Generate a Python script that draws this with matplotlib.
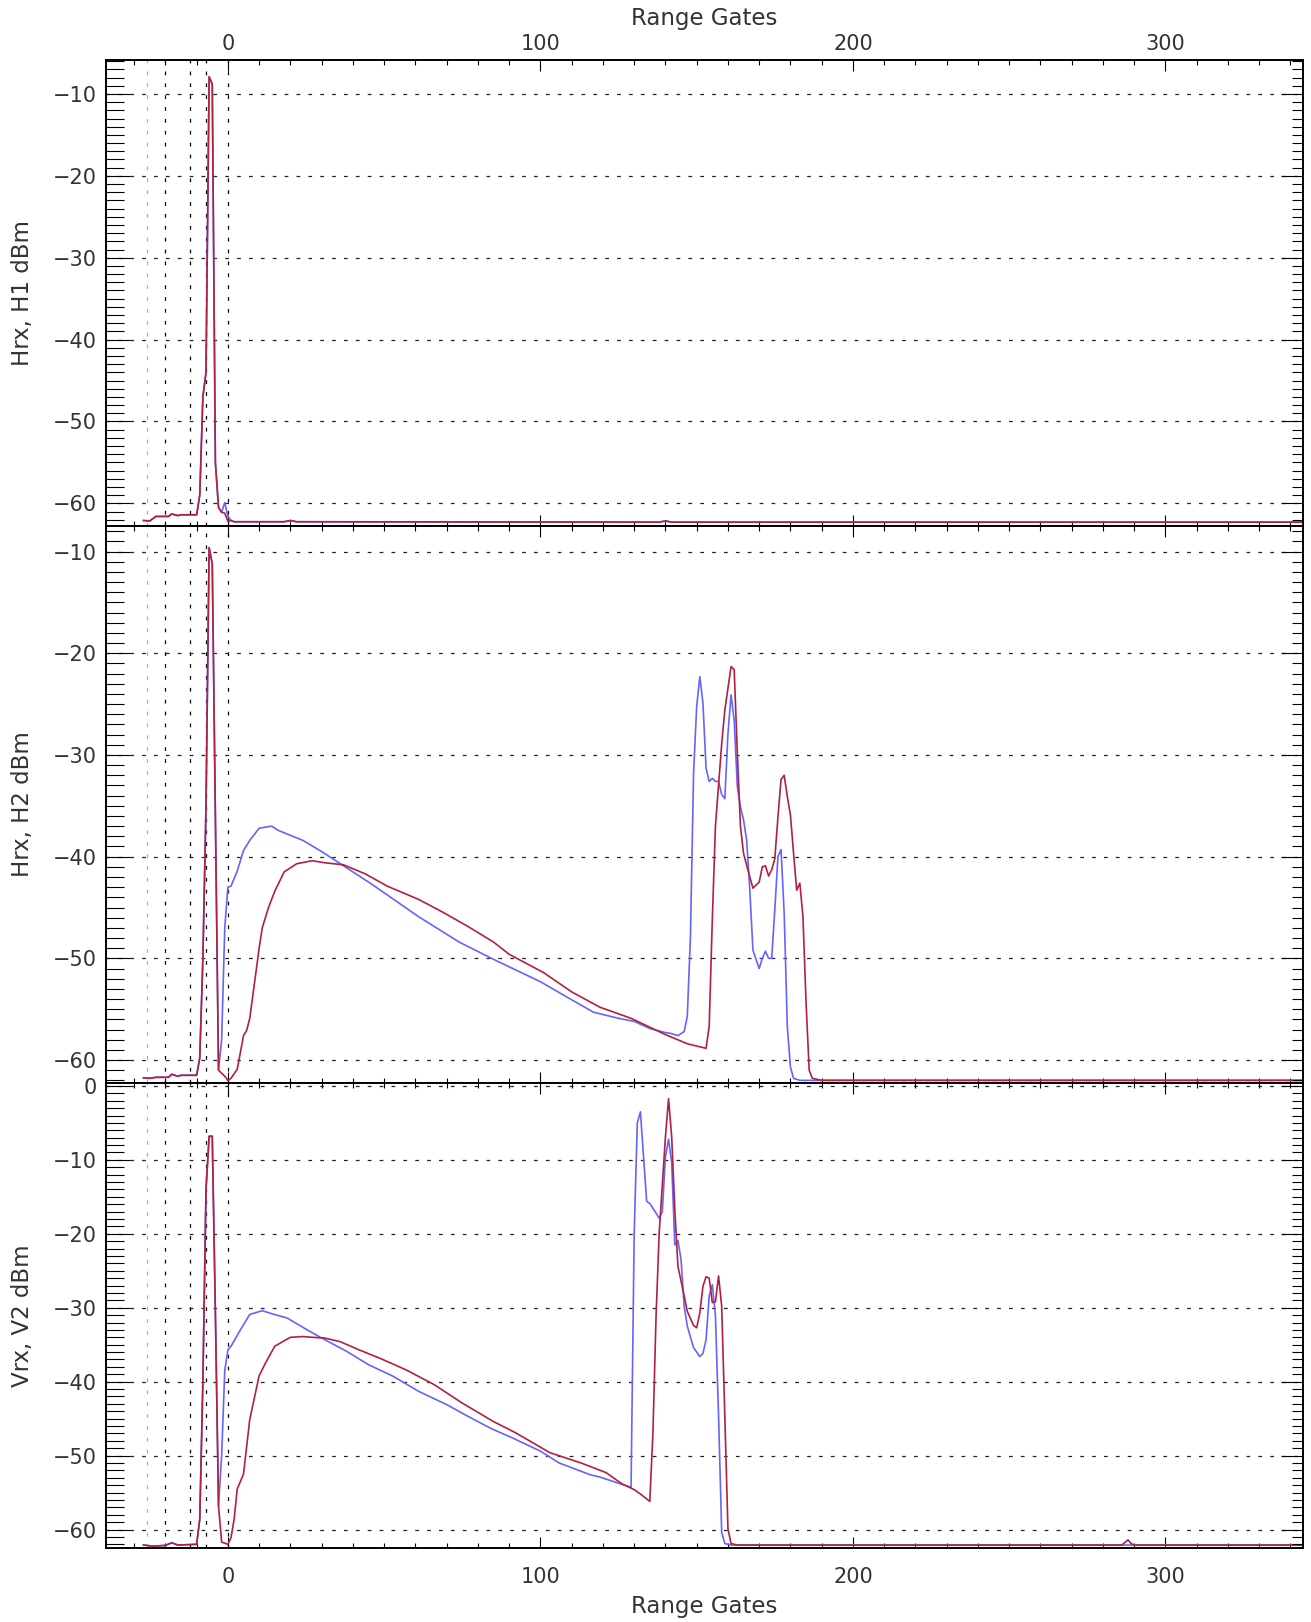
import matplotlib
matplotlib.use("Agg")
import matplotlib.pyplot as plt
from matplotlib.ticker import MultipleLocator

plt.rcParams['font.family'] = ['DejaVu Sans']

# ---- data (range gate, dBm) ----
h1_gates = [-27, -25, -23, -19, -18, -16, -15, -10, -9, -8, -7, -6, -5, -4, -3, -2, -1, 0, 1, 2,
            18, 20, 22, 138, 140, 142, 344]
h1_red = [-62.1, -62.15, -61.6, -61.6, -61.3, -61.5, -61.4, -61.4, -59.0, -47.0, -44.0, -7.9, -8.8,
          -55.0, -60.5, -61.1, -61.2, -62.2, -62.1, -62.25, -62.25, -62.1, -62.25, -62.3, -62.15,
          -62.3, -62.3]
h1_blue = [-62.1, -62.15, -61.6, -61.6, -61.3, -61.5, -61.4, -61.4, -59.0, -47.0, -44.0, -7.9, -8.8,
           -55.0, -60.5, -61.1, -59.9, -61.6, -62.1, -62.25, -62.25, -62.1, -62.25, -62.3, -62.15,
           -62.3, -62.3]

h2_red_gates = [-27, -25, -23, -19, -18, -16, -15, -10, -9, -8, -7, -6, -5, -4, -3, -1, 0, 1, 3, 5,
                6, 7, 10, 11, 13, 15, 18, 22, 27, 31, 37, 44, 51, 61, 69, 77, 85, 90, 101, 110,
                119, 129, 140, 147, 153, 154, 155, 156, 158, 159, 161, 162, 163, 164, 165, 167, 168,
                170, 171, 172, 173, 174, 175, 176, 177, 178, 179, 180, 181, 182, 183, 184, 185, 186,
                187, 190, 344]
h2_red = [-61.75, -61.8, -61.7, -61.7, -61.4, -61.6, -61.5, -61.5, -59.8, -50.0,
          -35.0, -9.6, -11.2, -36.0, -61.0, -61.6, -62.0, -61.8, -60.9, -57.6,
          -57.1, -55.9, -49.0, -47.0, -45.0, -43.4, -41.5, -40.7, -40.4, -40.6,
          -40.8, -41.7, -42.9, -44.2, -45.5, -46.9, -48.4, -49.6, -51.4, -53.3,
          -54.8, -55.9, -57.5, -58.4, -58.85, -56.7, -46.2, -37.0, -28.9, -25.6,
          -21.3, -21.6, -29.8, -37.0, -39.7, -42.0, -43.1, -42.5, -41.0, -40.9,
          -41.9, -41.3, -40.2, -36.1, -32.4, -32.0, -34.1, -35.9, -39.7, -43.3,
          -42.6, -45.9, -54.4, -61.0, -61.8, -62.0, -62.0]
h2_blue_gates = [-27, -25, -23, -19, -18, -16, -15, -10, -9, -8, -7, -6, -5, -4, -3, -2, -1, 0, 1, 3,
                 5, 7, 10, 14, 16, 24, 30, 36, 46, 61, 74, 85, 100, 109, 117, 125, 130, 135, 140, 142,
                 144, 146, 147, 148, 149, 150, 151, 152, 153, 154, 155, 156, 157, 158, 159, 160, 161,
                 162, 163, 164, 165, 166, 167, 168, 170, 171, 172, 173, 174, 175, 176, 177, 178, 179,
                 180, 181, 183, 344]
h2_blue = [-61.75, -61.8, -61.7, -61.7, -61.4, -61.6, -61.5, -61.5, -59.8, -50.0,
           -35.0, -9.6, -11.2, -36.0, -61.0, -58.0, -47.0, -43.0, -42.9, -41.4,
           -39.4, -38.4, -37.2, -37.0, -37.4, -38.4, -39.5, -40.7, -42.7, -45.9,
           -48.4, -50.1, -52.3, -53.9, -55.3, -55.9, -56.2, -56.9, -57.3, -57.4,
           -57.6, -57.2, -55.7, -47.9, -31.8, -25.2, -22.3, -24.9, -31.3, -32.6,
           -32.3, -32.6, -32.6, -33.9, -34.3, -27.9, -24.1, -26.6, -33.1, -35.1,
           -36.4, -38.4, -43.3, -49.2, -51.0, -50.0, -49.3, -50.0, -50.0, -45.2,
           -40.0, -39.3, -45.6, -56.7, -60.7, -61.8, -62.0, -62.0]

v2_red_gates = [-27, -24, -20, -18, -16, -10, -9, -8, -7, -6, -5, -4, -3, -2, 0, 1, 2, 3, 5, 7,
                10, 12, 15, 20, 24, 27, 31, 36, 42, 49, 57, 66, 75, 85, 92, 103, 113, 121, 126, 130,
                132, 135, 136, 137, 138, 140, 141, 142, 143, 144, 146, 147, 149, 150, 151, 152, 153,
                154, 155, 156, 157, 158, 159, 160, 161, 163, 286, 288, 289, 290, 344]
v2_red = [-62.1, -62.25, -62.15, -61.8, -62.1, -62.0, -58.6, -40.0, -14.0, -6.8,
          -6.8, -30.7, -56.8, -61.7, -62.0, -61.1, -58.6, -54.5, -52.5, -45.1,
          -39.2, -37.5, -35.2, -34.0, -33.9, -34.0, -34.1, -34.6, -35.7, -36.9,
          -38.4, -40.4, -42.9, -45.4, -46.9, -49.6, -51.0, -52.3, -53.8, -54.6,
          -55.2, -56.2, -46.9, -31.1, -19.9, -6.9, -1.7, -6.9, -16.7, -24.4,
          -28.4, -30.5, -32.4, -32.7, -30.7, -27.1, -25.8, -26.0, -29.3, -29.2,
          -25.7, -29.8, -44.6, -59.9, -61.9, -62.1, -62.1, -61.4, -61.9, -62.1,
          -62.1]
v2_blue_gates = [-27, -24, -20, -18, -16, -10, -9, -8, -7, -6, -5, -4, -3, -2, -1, 0, 1, 4, 7, 11,
                 14, 19, 25, 30, 38, 45, 53, 61, 70, 76, 84, 91, 100, 106, 116, 119, 124, 129, 130,
                 131, 132, 133, 134, 135, 137, 138, 139, 140, 141, 142, 143, 144, 145, 146, 147, 149,
                 151, 152, 153, 154, 155, 156, 157, 158, 159, 161, 344]
v2_blue = [-62.1, -62.25, -62.15, -61.8, -62.1, -62.0, -58.6, -40.0, -14.0, -6.8,
           -6.8, -30.7, -56.8, -50.0, -38.5, -35.7, -35.2, -33.0, -30.9, -30.4,
           -30.8, -31.4, -32.9, -34.1, -35.9, -37.7, -39.3, -41.3, -43.1, -44.5,
           -46.3, -47.6, -49.4, -51.0, -52.6, -52.9, -53.6, -54.3, -20.0, -5.0,
           -3.5, -9.6, -15.6, -15.9, -17.2, -17.9, -17.0, -9.6, -7.2, -10.4,
           -21.5, -20.9, -23.5, -29.8, -32.5, -35.4, -36.6, -36.2, -34.3, -28.4,
           -26.9, -31.1, -44.6, -60.4, -61.9, -62.1, -62.1]

ylabels = ['Hrx, H1 dBm', 'Hrx, H2 dBm', 'Vrx, V2 dBm']
ylims = [(-62.77, -5.85), (-62.26, -7.48), (-62.5, 0.4)]
marker_gates = [-26, -20, -12, -7, 0]
marker_colors = ['#a8a8d0', 'k', 'k', 'k', 'k']

RED = '#b2203f'
BLUE = '#6464ff'
DOTS = (0, (3, 6.5))
TXT = '#333333'
FS = 15      # tick labels
FS_LAB = 16.5  # axis titles

W, H = 1311, 1622
fig = plt.figure(figsize=(W / 100, H / 100), dpi=100)

left, right = 106, 1303
edges = [(60, 526), (526, 1083), (1083, 1548)]
series = [((h1_gates, h1_blue), (h1_gates, h1_red)),
          ((h2_blue_gates, h2_blue), (h2_red_gates, h2_red)),
          ((v2_blue_gates, v2_blue), (v2_red_gates, v2_red))]

axes = []
for i, (top, bot) in enumerate(edges):
    ax = fig.add_axes([left / W, 1 - bot / H, (right - left) / W, (bot - top) / H])
    (bg, bv), (rg, rv) = series[i]
    ax.plot(bg, bv, color=BLUE, lw=1.2, zorder=3)
    ax.plot(rg, rv, color=RED, lw=1.2, zorder=4)
    for g, c in zip(marker_gates, marker_colors):
        ax.axvline(g, color=c, lw=0.9, linestyle=DOTS, zorder=1)
    ax.set_xlim(-39, 344)
    ax.set_ylim(*ylims[i])
    ax.xaxis.set_major_locator(MultipleLocator(100))
    ax.xaxis.set_minor_locator(MultipleLocator(10))
    ax.yaxis.set_major_locator(MultipleLocator(10))
    ax.yaxis.set_minor_locator(MultipleLocator(1))
    ax.grid(axis='y', which='major', color='#222222', lw=0.9, linestyle=DOTS, zorder=1)
    ax.tick_params(axis='x', which='both', direction='in', top=True, bottom=True,
                   labelbottom=False, labeltop=False, width=0.8, labelsize=FS,
                   labelcolor=TXT)
    ax.tick_params(axis='x', which='major', length=8)
    ax.tick_params(axis='x', which='minor', length=3.5)
    ax.tick_params(axis='y', which='both', direction='in', left=True, right=False,
                   width=0.8, labelsize=FS, pad=6.5, labelcolor=TXT)
    ax.tick_params(axis='y', which='major', length=17)
    ax.tick_params(axis='y', which='minor', length=13)
    for s in ax.spines.values():
        s.set_linewidth(1.2)

    # right-hand ticks are shorter in the original
    axr = ax.twinx()
    axr.set_ylim(*ylims[i])
    axr.yaxis.set_major_locator(MultipleLocator(10))
    axr.yaxis.set_minor_locator(MultipleLocator(1))
    axr.tick_params(axis='y', which='both', direction='in', width=0.8, labelright=False)
    axr.tick_params(axis='y', which='major', length=16)
    axr.tick_params(axis='y', which='minor', length=8)
    for s in axr.spines.values():
        s.set_linewidth(1.2)
    ax.yaxis.tick_left()

    fig.text(22 / W, 1 - (top + bot) / 2 / H, ylabels[i], rotation=90,
             ha='center', va='center', fontsize=FS_LAB, color=TXT)
    axes.append(ax)

axes[0].tick_params(axis='x', labeltop=True, pad=4.5)
axes[2].tick_params(axis='x', labelbottom=True, pad=14)

fig.text((left + right) / 2 / W, 1 - 19 / H, 'Range Gates', ha='center', va='center',
         fontsize=FS_LAB, color=TXT)
fig.text((left + right) / 2 / W, 1 - 1607 / H, 'Range Gates', ha='center', va='center',
         fontsize=FS_LAB, color=TXT)

fig.savefig('out.png', dpi=100, facecolor='white')
